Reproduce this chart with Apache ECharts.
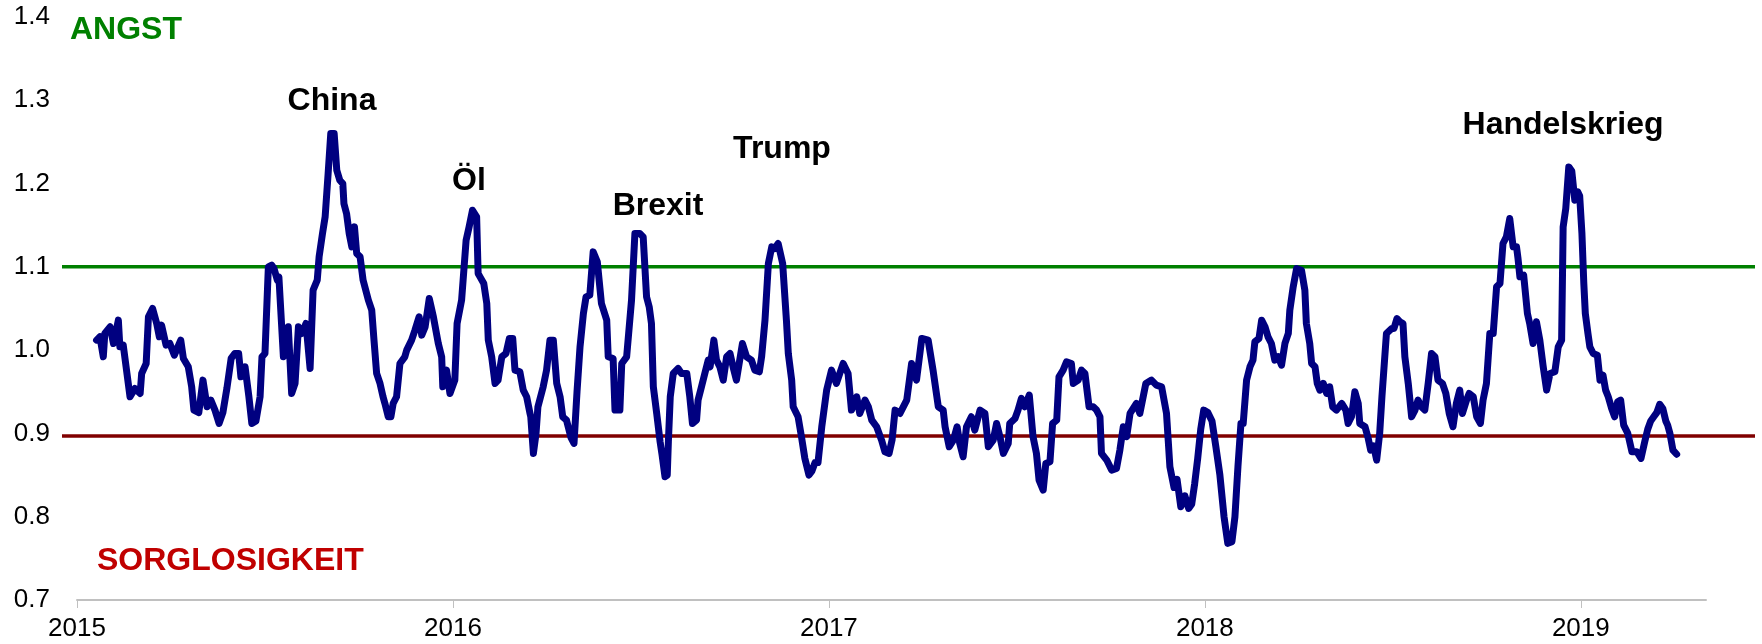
<!DOCTYPE html>
<html>
<head>
<meta charset="utf-8">
<script src="https://cdn.jsdelivr.net/npm/echarts@6/dist/echarts.min.js"></script>
<style>
html,body{margin:0;padding:0;background:#fff;}
#chart{width:1762px;height:644px;}
</style>
</head>
<body>
<div id="chart"></div>
<script>
// Time in decimal years
const years = [
2015.052,2015.061,2015.070,2015.074,2015.088,2015.097,2015.110,2015.114,2015.123,2015.141,
2015.154,2015.168,2015.172,2015.184,2015.190,2015.201,2015.212,2015.219,2015.225,2015.237,
2015.247,2015.259,2015.276,2015.283,2015.296,2015.305,2015.311,2015.324,2015.335,2015.346,
2015.356,2015.367,2015.378,2015.388,2015.399,2015.410,2015.420,2015.430,2015.436,2015.447,
2015.457,2015.465,2015.476,2015.487,2015.492,2015.500,2015.509,2015.518,2015.524,2015.533,
2015.537,2015.549,2015.562,2015.571,2015.580,2015.589,2015.598,2015.609,2015.620,2015.628,
2015.639,2015.644,2015.653,2015.660,2015.668,2015.675,2015.684,2015.691,2015.699,2015.707,
2015.710,2015.717,2015.724,2015.731,2015.738,2015.744,2015.753,2015.761,2015.775,2015.784,
2015.790,2015.797,2015.806,2015.814,2015.819,2015.828,2015.835,2015.841,2015.850,2015.859,
2015.872,2015.877,2015.890,2015.899,2015.910,2015.917,2015.926,2015.937,2015.948,2015.961,
2015.970,2015.973,2015.983,2015.992,2016.005,2016.011,2016.023,2016.027,2016.035,2016.043,
2016.052,2016.063,2016.067,2016.072,2016.082,2016.090,2016.094,2016.103,2016.112,2016.120,
2016.130,2016.141,2016.150,2016.159,2016.165,2016.178,2016.187,2016.196,2016.205,2016.207,
2016.214,2016.221,2016.226,2016.231,2016.240,2016.249,2016.258,2016.267,2016.276,2016.285,
2016.292,2016.302,2016.314,2016.322,2016.330,2016.338,2016.347,2016.354,2016.364,2016.373,
2016.384,2016.395,2016.409,2016.413,2016.426,2016.431,2016.444,2016.449,2016.462,2016.475,
2016.484,2016.497,2016.506,2016.515,2016.522,2016.528,2016.533,2016.542,2016.551,2016.556,
2016.564,2016.570,2016.573,2016.578,2016.586,2016.599,2016.608,2016.622,2016.630,2016.637,
2016.648,2016.652,2016.661,2016.670,2016.679,2016.684,2016.694,2016.701,2016.710,2016.719,
2016.728,2016.737,2016.745,2016.754,2016.770,2016.781,2016.794,2016.803,2016.815,2016.821,
2016.830,2016.839,2016.848,2016.856,2016.865,2016.877,2016.887,2016.892,2016.901,2016.905,
2016.918,2016.927,2016.936,2016.947,2016.955,2016.963,2016.971,2016.981,2016.994,2017.007,
2017.020,2017.038,2017.051,2017.060,2017.074,2017.082,2017.096,2017.105,2017.114,2017.127,
2017.140,2017.149,2017.160,2017.168,2017.176,2017.189,2017.207,2017.220,2017.233,2017.247,
2017.264,2017.277,2017.291,2017.304,2017.309,2017.320,2017.331,2017.341,2017.348,2017.357,
2017.366,2017.379,2017.388,2017.402,2017.415,2017.424,2017.437,2017.446,2017.455,2017.464,
2017.477,2017.481,2017.495,2017.503,2017.512,2017.521,2017.533,2017.543,2017.552,2017.559,
2017.570,2017.577,2017.588,2017.595,2017.606,2017.612,2017.623,2017.632,2017.645,2017.650,
2017.663,2017.672,2017.681,2017.692,2017.703,2017.712,2017.721,2017.725,2017.739,2017.752,
2017.765,2017.774,2017.783,2017.792,2017.801,2017.818,2017.827,2017.843,2017.858,2017.871,
2017.885,2017.898,2017.907,2017.918,2017.926,2017.936,2017.947,2017.957,2017.965,2017.973,
2017.981,2017.989,2017.997,2018.008,2018.019,2018.029,2018.040,2018.051,2018.061,2018.072,
2018.080,2018.088,2018.096,2018.102,2018.111,2018.120,2018.128,2018.133,2018.144,2018.151,
2018.160,2018.168,2018.177,2018.186,2018.195,2018.204,2018.213,2018.222,2018.226,2018.235,
2018.244,2018.257,2018.266,2018.270,2018.279,2018.284,2018.293,2018.299,2018.306,2018.315,
2018.324,2018.332,2018.340,2018.350,2018.364,2018.375,2018.381,2018.390,2018.399,2018.408,
2018.412,2018.426,2018.434,2018.441,2018.449,2018.457,2018.465,2018.471,2018.483,2018.497,
2018.503,2018.511,2018.519,2018.527,2018.532,2018.541,2018.550,2018.559,2018.567,2018.576,
2018.585,2018.594,2018.603,2018.612,2018.620,2018.632,2018.641,2018.650,2018.660,2018.669,
2018.678,2018.685,2018.696,2018.703,2018.714,2018.723,2018.733,2018.740,2018.749,2018.758,
2018.767,2018.776,2018.785,2018.793,2018.802,2018.811,2018.820,2018.829,2018.833,2018.838,
2018.848,2018.858,2018.864,2018.873,2018.882,2018.891,2018.900,2018.909,2018.918,2018.931,
2018.940,2018.949,2018.953,2018.960,2018.968,2018.976,2018.984,2018.992,2018.997,2019.003,
2019.008,2019.012,2019.019,2019.024,2019.033,2019.044,2019.051,2019.059,2019.066,2019.073,
2019.082,2019.090,2019.098,2019.106,2019.114,2019.125,2019.136,2019.149,2019.160,2019.170,
2019.178,2019.186,2019.194,2019.202,2019.210,2019.218,2019.226,2019.231,2019.237,2019.245,
2019.255
];
// Index level
const values = [
1.012,1.016,0.992,1.020,1.028,1.008,1.036,1.004,1.006,0.944,
0.954,0.948,0.972,0.984,1.040,1.050,1.032,1.016,1.030,1.006,
1.008,0.994,1.012,0.990,0.980,0.956,0.928,0.925,0.964,0.932,
0.940,0.928,0.912,0.925,0.955,0.990,0.996,0.996,0.968,0.980,
0.945,0.912,0.915,0.944,0.992,0.996,1.100,1.102,1.098,1.084,
1.088,0.992,1.028,0.948,0.960,1.028,1.020,1.032,0.978,1.072,
1.084,1.112,1.140,1.160,1.212,1.260,1.260,1.216,1.204,1.200,
1.176,1.164,1.140,1.124,1.148,1.116,1.112,1.084,1.060,1.048,
1.012,0.972,0.960,0.944,0.936,0.920,0.920,0.936,0.944,0.984,
0.992,1.000,1.012,1.024,1.040,1.018,1.028,1.062,1.040,1.008,
0.992,0.956,0.976,0.948,0.964,1.032,1.060,1.084,1.132,1.148,
1.168,1.160,1.092,1.088,1.080,1.056,1.012,0.992,0.960,0.964,
0.992,0.996,1.014,1.014,0.976,0.974,0.952,0.944,0.924,0.920,
0.876,0.900,0.932,0.932,0.956,0.976,1.012,1.012,0.960,0.944,
0.920,0.916,0.895,0.888,0.950,1.004,1.044,1.064,1.066,1.118,
1.106,1.056,1.036,0.992,0.990,0.928,0.928,0.984,0.992,1.060,
1.140,1.140,1.136,1.064,1.052,1.032,0.956,0.924,0.890,0.875,
0.848,0.850,0.890,0.944,0.972,0.978,0.972,0.972,0.944,0.912,
0.916,0.940,0.956,0.972,0.988,0.980,1.012,0.988,0.980,0.964,
0.992,0.996,0.980,0.964,1.008,0.992,0.988,0.976,0.974,0.992,
1.036,1.104,1.124,1.122,1.128,1.104,1.036,0.996,0.964,0.932,
0.920,0.896,0.870,0.850,0.855,0.865,0.865,0.908,0.952,0.976,
0.960,0.984,0.972,0.928,0.944,0.924,0.940,0.932,0.916,0.908,
0.892,0.878,0.876,0.892,0.928,0.924,0.940,0.984,0.964,1.014,
1.012,0.976,0.932,0.928,0.908,0.884,0.892,0.908,0.888,0.872,
0.908,0.920,0.904,0.928,0.924,0.884,0.892,0.912,0.896,0.876,
0.888,0.912,0.918,0.928,0.942,0.932,0.946,0.896,0.876,0.844,
0.832,0.864,0.866,0.912,0.916,0.968,0.976,0.986,0.984,0.960,
0.964,0.976,0.972,0.932,0.932,0.928,0.920,0.876,0.868,0.856,
0.858,0.880,0.908,0.896,0.924,0.936,0.924,0.960,0.964,0.958,
0.956,0.924,0.860,0.835,0.845,0.812,0.825,0.810,0.815,0.840,
0.870,0.905,0.928,0.925,0.915,0.885,0.850,0.800,0.768,0.770,
0.800,0.860,0.912,0.912,0.964,0.980,0.988,1.010,1.014,1.036,
1.028,1.016,1.008,0.988,0.992,0.982,1.008,1.020,1.048,1.076,
1.098,1.096,1.072,1.032,1.008,0.984,0.980,0.960,0.952,0.960,
0.948,0.956,0.932,0.928,0.936,0.928,0.912,0.920,0.950,0.936,
0.912,0.908,0.895,0.880,0.885,0.868,0.900,0.944,1.020,1.026,
1.026,1.038,1.034,1.032,0.992,0.960,0.920,0.928,0.940,0.932,
0.928,0.960,0.996,0.992,0.964,0.960,0.948,0.924,0.908,0.936,
0.952,0.924,0.940,0.948,0.944,0.920,0.912,0.940,0.960,1.020,
1.020,1.076,1.080,1.128,1.136,1.158,1.124,1.124,1.110,1.088,
1.090,1.044,1.032,1.008,1.034,1.012,0.980,0.952,0.972,0.974,
1.004,1.012,1.148,1.170,1.220,1.215,1.180,1.190,1.185,1.140,
1.080,1.044,1.020,1.004,0.996,0.994,0.964,0.970,0.952,0.944,
0.930,0.920,0.938,0.940,0.910,0.900,0.878,0.878,0.870,0.890,
0.905,0.915,0.920,0.925,0.935,0.930,0.915,0.910,0.900,0.880,
0.875
];
const xTicks = [2015, 2016, 2017, 2018, 2019];
const yTicks = [0.7, 0.8, 0.9, 1.0, 1.1, 1.2, 1.3, 1.4];
const fearLevel = 1.1;
const calmLevel = 0.897;
const annotations = [
  {text: 'China', x: 332, y: 101},
  {text: 'Öl', x: 469, y: 181},
  {text: 'Brexit', x: 658, y: 206},
  {text: 'Trump', x: 782, y: 149},
  {text: 'Handelskrieg', x: 1563, y: 125}
];

const seriesData = years.map((t, i) => [t, values[i]]);

const chart = echarts.init(document.getElementById('chart'), null, {renderer: 'canvas'});
const FONT = '"Liberation Sans", Arial, sans-serif';

const graphics = [
  {type: 'text', left: 70, top: 14, style: {text: 'ANGST', fill: '#008000', font: 'bold 32px ' + FONT}},
  {type: 'text', left: 97, top: 545, style: {text: 'SORGLOSIGKEIT', fill: '#C00000', font: 'bold 32px ' + FONT}}
];
annotations.forEach(a => {
  graphics.push({type: 'text', x: a.x, y: a.y, style: {text: a.text, fill: '#000', font: 'bold 32px ' + FONT, align: 'center', verticalAlign: 'middle'}});
});

chart.setOption({
  animation: false,
  backgroundColor: '#fff',
  grid: [
    {left: 77, right: 56, top: 17, bottom: 44},
    {left: 62, right: 7, top: 17, bottom: 44}
  ],
  xAxis: [
    {
      type: 'value', gridIndex: 0, min: 2015, max: 2019.333, interval: 1,
      axisLine: {show: true, lineStyle: {color: '#c0c0c0', width: 2}},
      axisTick: {show: true, length: 8, customValues: xTicks, lineStyle: {color: '#c0c0c0', width: 1}},
      splitLine: {show: false},
      axisLabel: {color: '#000', fontSize: 26, fontFamily: FONT, margin: 16, customValues: xTicks,
        formatter: v => String(Math.round(v))}
    },
    {type: 'value', gridIndex: 1, min: 0, max: 1, show: false}
  ],
  yAxis: [
    {
      type: 'value', gridIndex: 0, min: 0.7, max: 1.4, interval: 0.1,
      axisLine: {show: false}, axisTick: {show: false}, splitLine: {show: false},
      axisLabel: {color: '#000', fontSize: 26, fontFamily: FONT, margin: 27, customValues: yTicks,
        formatter: v => v.toFixed(1)}
    },
    {type: 'value', gridIndex: 1, min: 0.7, max: 1.4, show: false}
  ],
  series: [
    {
      type: 'line', xAxisIndex: 1, yAxisIndex: 1, showSymbol: false, silent: true,
      data: [[0, fearLevel], [1, fearLevel]],
      lineStyle: {color: '#008000', width: 3.5}, z: 1
    },
    {
      type: 'line', xAxisIndex: 1, yAxisIndex: 1, showSymbol: false, silent: true,
      data: [[0, calmLevel], [1, calmLevel]],
      lineStyle: {color: '#800000', width: 3.5}, z: 1
    },
    {
      type: 'line', xAxisIndex: 0, yAxisIndex: 0, showSymbol: false, silent: true,
      data: seriesData,
      lineStyle: {color: '#000080', width: 7, join: 'round', cap: 'round'}, z: 3
    }
  ],
  graphic: graphics
});
</script>
</body>
</html>
